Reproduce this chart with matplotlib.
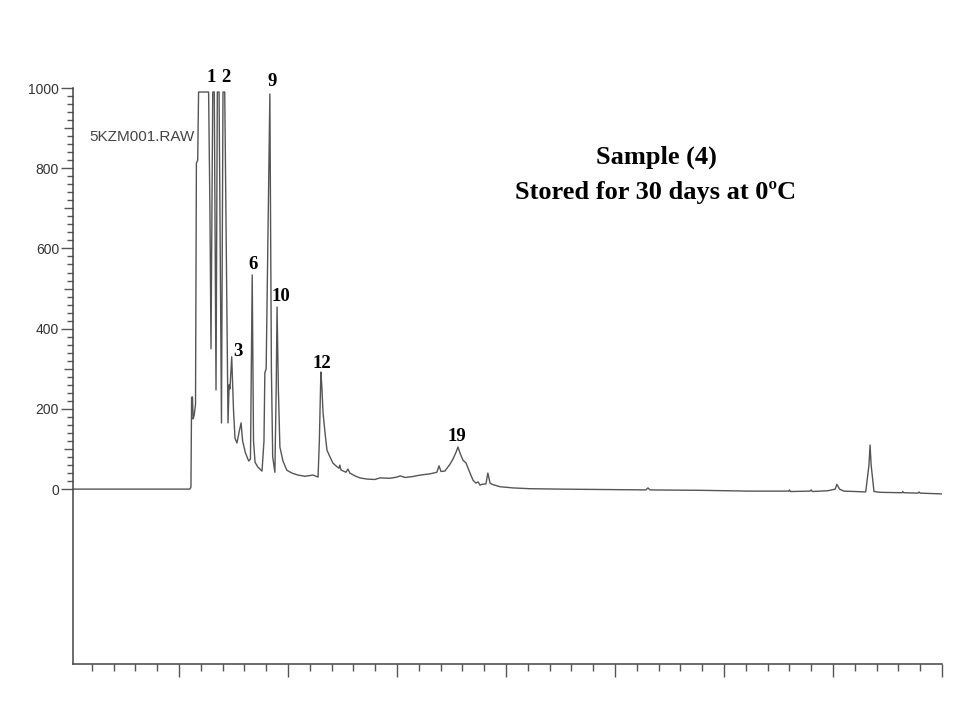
import matplotlib.pyplot as plt
import numpy as np
from matplotlib.ticker import FixedLocator

# retention time (min) and detector response
time = np.array([
    0.15, 5.50, 5.55, 5.58, 5.62, 5.65, 5.70, 5.76, 5.80, 5.86,
    5.90, 6.36, 6.42, 6.47, 6.55, 6.62, 6.70, 6.76, 6.84, 6.95,
    7.02, 7.10, 7.25, 7.30, 7.34, 7.42, 7.50, 7.57, 7.66, 7.75,
    7.85, 7.92, 8.05, 8.20, 8.28, 8.36, 8.42, 8.49, 8.62, 8.81,
    8.90, 8.94, 9.00, 9.10, 9.17, 9.24, 9.30, 9.40, 9.46, 9.50,
    9.56, 9.63, 9.77, 9.95, 10.18, 10.46, 10.78, 11.15, 11.38, 11.44,
    11.51, 11.55, 11.61, 11.70, 11.79, 11.93, 12.06, 12.20, 12.34, 12.38,
    12.43, 12.66, 12.75, 12.84, 13.07, 13.30, 13.62, 13.99, 14.22, 14.68,
    15.00, 15.15, 15.37, 15.69, 16.06, 16.51, 16.83, 16.93, 17.02, 17.20,
    17.43, 17.57, 17.71, 17.80, 17.89, 18.03, 18.17, 18.26, 18.35, 18.49,
    18.62, 18.72, 18.81, 18.90, 19.08, 19.17, 19.27, 19.36, 19.72, 20.32,
    21.10, 22.48, 24.31, 26.42, 26.51, 26.61, 28.90, 31.19, 32.98, 33.00,
    33.05, 33.94, 34.00, 34.05, 34.77, 35.10, 35.18, 35.30, 35.50, 36.50,
    36.65, 36.70, 36.75, 36.88, 37.16, 38.17, 38.20, 38.25, 38.90, 38.95,
    39.00, 40.00])
response = np.array([
    0, 0, 5, 229, 230, 175, 185, 212, 813, 820,
    990, 990, 700, 350, 990, 990, 247, 990, 990, 165,
    990, 990, 165, 260, 250, 330, 200, 127, 115, 140,
    165, 120, 90, 70, 75, 534, 120, 67, 55, 45,
    120, 290, 300, 700, 985, 300, 80, 42, 250, 454,
    250, 105, 70, 47, 40, 35, 32, 35, 30, 120,
    292, 260, 190, 140, 97, 80, 65, 58, 52, 60,
    48, 42, 50, 40, 33, 28, 25, 24, 28, 27,
    30, 33, 29, 31, 35, 38, 42, 58, 44, 45,
    62, 75, 92, 105, 90, 72, 65, 52, 40, 22,
    15, 18, 10, 12, 13, 40, 15, 12, 6, 3,
    1, 0, -1, -2, 3, -2, -3, -5, -5, -2,
    -6, -5, -2, -6, -4, 0, 12, 0, -5, -7,
    60, 110, 60, -6, -8, -9, -6, -9, -10, -7,
    -10, -12])

peak_names = ['1', '2', '3', '6', '9', '10', '12', '19']
peak_time = [6.47, 7.16, 7.71, 8.39, 9.27, 9.68, 11.56, 17.75]
peak_label_y = [1025, 1025, 344, 559, 1017, 479, 312, 130]

fig = plt.figure(figsize=(9.58, 7.03), dpi=100)
ax = fig.add_axes([73 / 958, 1 - 664 / 703, (942 - 73) / 958, (664 - 88) / 703])

ax.plot(time, response, color='#555555', lw=1.0)

ax.set_xlim(0.14, 40)
ax.set_ylim(-436, 1000)

for side in ['top', 'right']:
    ax.spines[side].set_visible(False)
for side in ['left', 'bottom']:
    ax.spines[side].set_color('#444444')
    ax.spines[side].set_linewidth(1.1)

# x axis: ticks every minute, long ones every 5, no labels
ax.xaxis.set_major_locator(FixedLocator(np.arange(5, 41, 5)))
ax.xaxis.set_minor_locator(FixedLocator([m for m in range(1, 40) if m % 5]))
ax.tick_params(axis='x', which='major', length=9.5, width=1, color='#555555',
               labelbottom=False)
ax.tick_params(axis='x', which='minor', length=5, width=1, color='#555555')

# y axis: labelled ticks every 200, small ticks every 20 (0..1000 only)
ax.yaxis.set_major_locator(FixedLocator(np.arange(0, 1001, 200)))
ax.yaxis.set_minor_locator(FixedLocator([v for v in range(20, 1000, 20) if v % 100]))
ax.tick_params(axis='y', which='major', length=9, width=1, color='#555555',
               labelsize=10, labelcolor='#333333', pad=1)
ax.tick_params(axis='y', which='minor', length=4.5, width=1, color='#555555')
for lab in ax.get_yticklabels():
    lab.set_family('Liberation Sans')

# medium ticks at the hundreds
sec = ax.secondary_yaxis('left')
sec.yaxis.set_major_locator(FixedLocator(np.arange(100, 1000, 200)))
sec.tick_params(length=6.5, width=1, color='#555555', labelleft=False)
sec.spines['left'].set_visible(False)

ax.text(0.9, 878, '5KZM001.RAW', fontsize=11, family='Liberation Sans',
        color='#444444', va='center', ha='left')

for name, t, y in zip(peak_names, peak_time, peak_label_y):
    ax.text(t, y, name, fontsize=13.5, fontweight='bold', family='Liberation Serif',
            ha='center', va='center', clip_on=False)

fig.text(656 / 958, 1 - 157 / 703, 'Sample (4)', fontsize=19, fontweight='bold',
         family='Liberation Serif', ha='center', va='center')
fig.text(656 / 958, 1 - 192 / 703, 'Stored for 30 days at 0ºC', fontsize=19,
         fontweight='bold', family='Liberation Serif', ha='center', va='center')

fig.savefig('out.png', dpi=100)
